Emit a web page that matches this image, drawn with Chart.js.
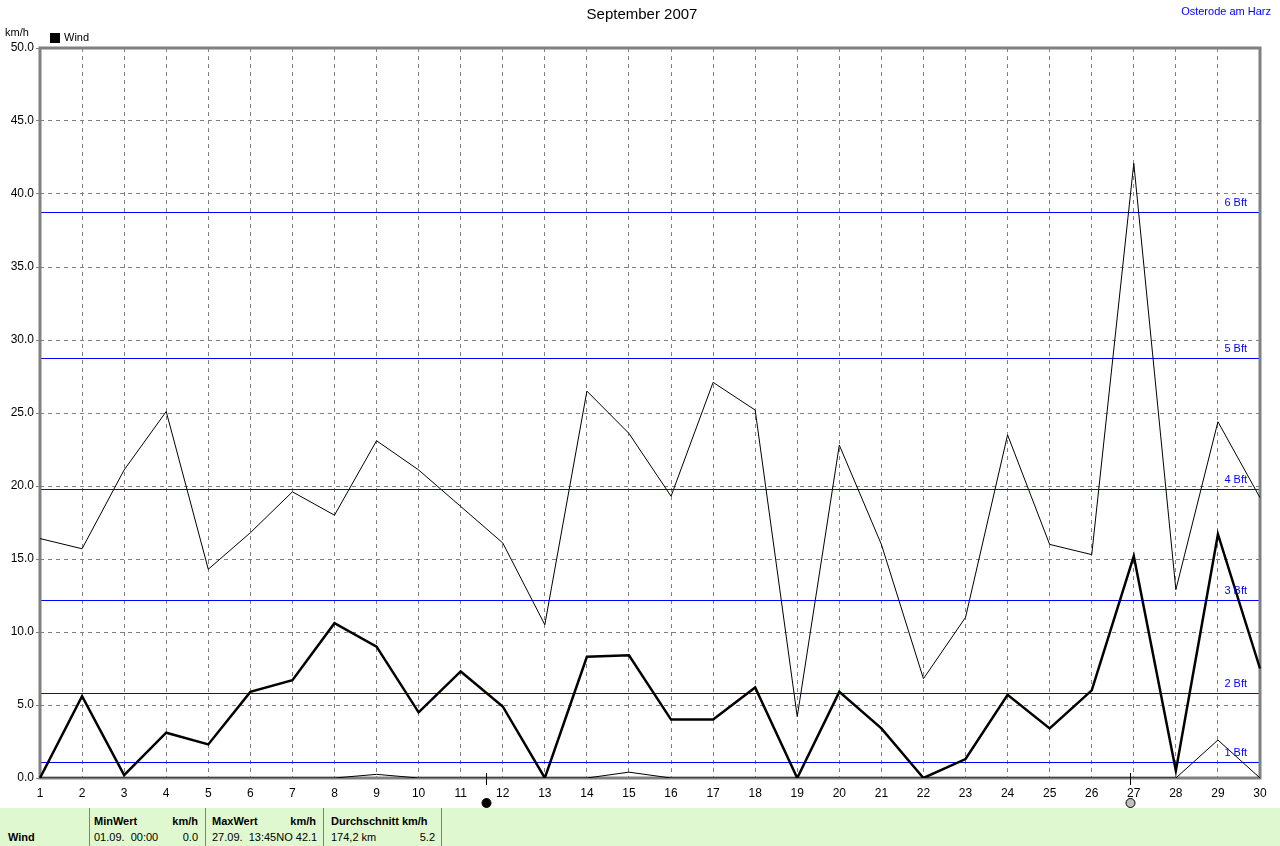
<!DOCTYPE html>
<html>
<head>
<meta charset="utf-8">
<script src="https://cdn.jsdelivr.net/npm/chart.js@4/dist/chart.umd.min.js"></script>
<style>
    body { margin: 0; background: #fff; font-family: "Liberation Sans", Arial, sans-serif; }
    #wrap { position: relative; width: 1280px; height: 846px; overflow: hidden; }
    #chart { position: absolute; left: 0; top: 0; }
    #table { position: absolute; left: 0; top: 808px; width: 1280px; height: 38px; background: #e0f8d0; font-size: 11px; }
    #table .sep { position: absolute; top: 0; width: 1px; height: 38px; background: #808080; }
    #table .t { position: absolute; white-space: pre; }
    #table .b { font-weight: bold; }
    #table .r { text-align: right; }
</style>
</head>
<body>
<div id="wrap">
    <canvas id="chart" width="1280" height="808"></canvas>
    <div id="table">
        <div class="sep" style="left:89px"></div>
        <div class="sep" style="left:205px"></div>
        <div class="sep" style="left:323px"></div>
        <div class="sep" style="left:441px"></div>
        <div class="t b" style="left:8px; top:23px">Wind</div>
        <div class="t b" style="left:94px; top:7px">MinWert</div>
        <div class="t b r" style="left:150px; width:48px; top:7px">km/h</div>
        <div class="t" style="left:94px; top:23px">01.09.  00:00</div>
        <div class="t r" style="left:150px; width:48px; top:23px">0.0</div>
        <div class="t b" style="left:212px; top:7px">MaxWert</div>
        <div class="t b r" style="left:268px; width:48px; top:7px">km/h</div>
        <div class="t" style="left:212px; top:23px">27.09.  13:45NO 42.1</div>
        <div class="t b" style="left:331px; top:7px">Durchschnitt km/h</div>
        <div class="t" style="left:331px; top:23px">174,2 km</div>
        <div class="t r" style="left:400px; width:35px; top:23px">5.2</div>
    </div>
</div>
<script>
document.addEventListener("DOMContentLoaded", function () {
    // Days of September 2007
    const days = [];
    for (let d = 1; d <= 30; d++) days.push(String(d));

    // Daily wind values in km/h
    const windAvg = [0.0, 5.6, 0.2, 3.1, 2.3, 5.9, 6.7, 10.6, 9.0, 4.5,
                     7.3, 4.9, 0.0, 8.3, 8.4, 4.0, 4.0, 6.2, 0.0, 5.9,
                     3.4, 0.0, 1.3, 5.7, 3.4, 6.0, 15.2, 0.5, 16.7, 7.5];
    const windMax = [16.4, 15.7, 21.1, 25.1, 14.3, 16.8, 19.6, 18.0, 23.1, 21.1,
                     18.6, 16.1, 10.5, 26.5, 23.6, 19.3, 27.1, 25.2, 4.2, 22.8,
                     16.0, 6.8, 11.0, 23.5, 16.0, 15.3, 42.1, 12.9, 24.4, 19.2];
    const windMin = [0, 0, 0, 0, 0, 0, 0, 0, 0.25, 0,
                     0, 0, 0, 0, 0.4, 0, 0, 0, 0, 0,
                     0, 0, 0, 0, 0, 0, 0, 0, 2.6, 0];

    // Beaufort limits drawn as blue lines
    const bftLabels = ["1 Bft", "2 Bft", "3 Bft", "4 Bft", "5 Bft", "6 Bft"];
    const bftValues = [1.1, 5.8, 12.2, 19.8, 28.8, 38.8];

    // Moon phases (day position), new moon and full moon
    const moonDays = [11.61, 26.91];
    const moonTypes = ["new", "full"];

    const yTicks = [0, 5, 10, 15, 20, 25, 30, 35, 40, 45, 50];

    function dayToPixel(scale, pos) {
        // category scale: interpolate between integer days
        const i = Math.floor(pos) - 1;
        const f = pos - Math.floor(pos);
        const a = scale.getPixelForValue(i);
        const b = scale.getPixelForValue(i + 1);
        return a + (b - a) * f;
    }

    const overlay = {
        id: "overlay",
        beforeDatasetsDraw(chart) {
            const ctx = chart.ctx;
            const area = chart.chartArea;
            const y = chart.scales.y;
            ctx.save();
            // Beaufort lines
            ctx.strokeStyle = "#0000ff";
            ctx.lineWidth = 1;
            bftValues.forEach(v => {
                const py = Math.round(y.getPixelForValue(v)) + 0.5;
                ctx.beginPath();
                ctx.moveTo(area.left, py);
                ctx.lineTo(area.right, py);
                ctx.stroke();
            });
            // Frame
            ctx.strokeStyle = "#808080";
            ctx.lineWidth = 3;
            ctx.strokeRect(area.left, area.top, area.right - area.left, area.bottom - area.top);
            ctx.restore();
        },
        afterDraw(chart) {
            const ctx = chart.ctx;
            const area = chart.chartArea;
            const x = chart.scales.x;
            const y = chart.scales.y;
            ctx.save();
            ctx.textBaseline = "middle";

            // Title
            ctx.fillStyle = "#000";
            ctx.font = "15px 'Liberation Sans', Arial, sans-serif";
            ctx.textAlign = "center";
            ctx.fillText("September 2007", 642, 15);

            // Location
            ctx.fillStyle = "#0000ff";
            ctx.font = "11px 'Liberation Sans', Arial, sans-serif";
            ctx.textAlign = "right";
            ctx.fillText("Osterode am Harz", 1271, 12);

            // Unit and legend
            ctx.fillStyle = "#000";
            ctx.textAlign = "left";
            ctx.fillText("km/h", 5, 33);
            ctx.fillRect(50, 33, 10, 10);
            ctx.fillText("Wind", 64, 38);

            // Beaufort labels
            ctx.fillStyle = "#0000ff";
            ctx.textAlign = "right";
            bftValues.forEach((v, i) => {
                const py = y.getPixelForValue(v);
                ctx.fillText(bftLabels[i], area.right - 13, py - 9);
            });

            // Moon phases
            moonDays.forEach((d, i) => {
                const px = Math.round(dayToPixel(x, d)) + 0.5;
                ctx.strokeStyle = "#000";
                ctx.lineWidth = 1;
                ctx.beginPath();
                ctx.moveTo(px, area.bottom - 5);
                ctx.lineTo(px, area.bottom + 7);
                ctx.stroke();
                ctx.beginPath();
                ctx.arc(px, area.bottom + 25, 4.5, 0, Math.PI * 2);
                ctx.fillStyle = moonTypes[i] === "new" ? "#000" : "#c0c0c0";
                ctx.fill();
                ctx.stroke();
            });
            ctx.restore();
        }
    };

    new Chart(document.getElementById("chart"), {
        type: "line",
        data: {
            labels: days,
            datasets: [
                {
                    label: "Wind",
                    data: windAvg,
                    borderColor: "#000",
                    borderWidth: 2.5,
                    pointRadius: 0,
                    tension: 0
                },
                {
                    label: "Max",
                    data: windMax,
                    borderColor: "#000",
                    borderWidth: 1,
                    pointRadius: 0,
                    tension: 0
                },
                {
                    label: "Min",
                    data: windMin,
                    borderColor: "#000",
                    borderWidth: 1,
                    pointRadius: 0,
                    tension: 0
                }
            ]
        },
        options: {
            responsive: false,
            animation: false,
            layout: { padding: { left: 0, right: 20, top: 48, bottom: 0 } },
            plugins: {
                legend: { display: false },
                title: { display: false },
                tooltip: { enabled: false }
            },
            scales: {
                x: {
                    type: "category",
                    offset: false,
                    afterFit: s => { s.height = 30; },
                    grid: {
                        color: "#808080",
                        drawTicks: false,
                        lineWidth: 1
                    },
                    border: { display: false, dash: [4, 4] },
                    ticks: {
                        color: "#000",
                        padding: 8,
                        autoSkip: false,
                        maxRotation: 0,
                        font: { family: "'Liberation Sans', Arial, sans-serif", size: 12 }
                    }
                },
                y: {
                    min: 0,
                    max: 50,
                    afterFit: s => { s.width = 40; },
                    afterBuildTicks: s => { s.ticks = yTicks.map(v => ({ value: v })); },
                    grid: {
                        color: "#808080",
                        lineWidth: 1,
                        tickLength: 4,
                        tickColor: "#808080",
                        tickBorderDash: []
                    },
                    border: { display: false, dash: [4, 4] },
                    ticks: {
                        color: "#000",
                        padding: 2,
                        callback: v => Number(v).toFixed(1),
                        font: { family: "'Liberation Sans', Arial, sans-serif", size: 12 }
                    }
                }
            }
        },
        plugins: [overlay]
    });
});
</script>
</body>
</html>
